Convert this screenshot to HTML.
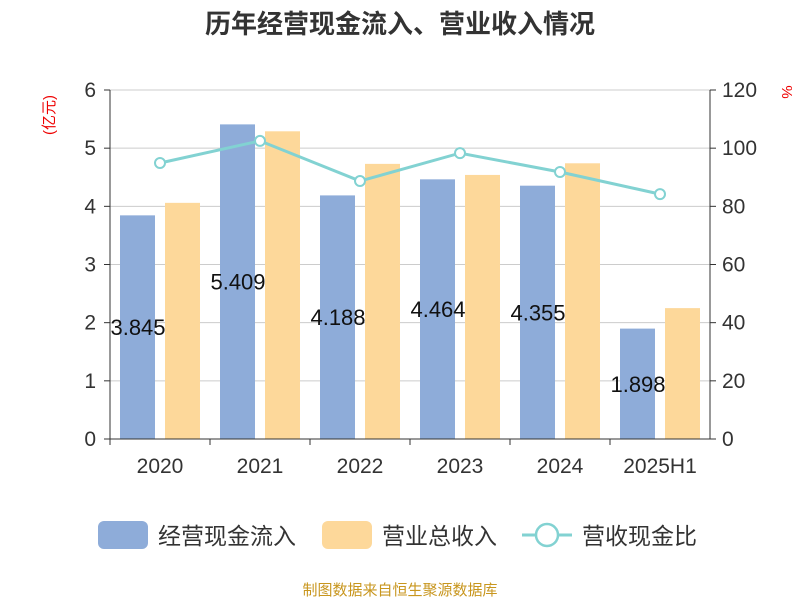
<!DOCTYPE html>
<html><head><meta charset="utf-8"><style>
body{margin:0;background:#fff;}
svg text{font-family:"Liberation Sans","Noto Sans CJK SC",sans-serif;}
</style></head><body>
<svg id="chart" width="800" height="600" xmlns="http://www.w3.org/2000/svg">
<text x="400" y="33" text-anchor="middle" font-size="26" font-weight="bold" fill="#333">历年经营现金流入、营业收入情况</text>
<text transform="translate(54,115) rotate(-90)" text-anchor="middle" font-size="15" fill="#e00">(亿元)</text>
<text transform="translate(782,92) rotate(90)" text-anchor="middle" font-size="15" fill="#e00">%</text>
<g id="grid"></g><g id="bars"></g><g id="line"></g><g id="axes"></g>
<g>
<rect x="98" y="521" width="50" height="28" rx="6" fill="#8eacd9"/>
<text x="158" y="544" font-size="23" fill="#333">经营现金流入</text>
<rect x="322" y="521" width="50" height="28" rx="6" fill="#fdd89a"/>
<text x="382" y="544" font-size="23" fill="#333">营业总收入</text>
<line x1="522" y1="535" x2="572" y2="535" stroke="#82d2d2" stroke-width="3"/>
<circle cx="547" cy="535" r="11" fill="#fff" stroke="#82d2d2" stroke-width="2.5"/>
<text x="582" y="544" font-size="23" fill="#333">营收现金比</text>
</g>
<text x="400" y="595" text-anchor="middle" font-size="15" fill="#c8961e">制图数据来自恒生聚源数据库</text>
</svg>
<script>
const categories=["2020","2021","2022","2023","2024","2025H1"];
const cashInflow=[3.845,5.409,4.188,4.464,4.355,1.898];
const revenue=[4.06,5.29,4.73,4.54,4.74,2.25];
const ratio=[94.9,102.5,88.7,98.3,91.8,84.2];
const leftTicks=[0,1,2,3,4,5,6];
const rightTicks=[0,20,40,60,80,100,120];
const NS="http://www.w3.org/2000/svg";
const L=110,R=710,T=90,B=439;
const yL=v=>B-(v/6)*(B-T);
const yR=v=>B-(v/120)*(B-T);
const xC=i=>L+(R-L)/categories.length*(i+0.5);
function mk(tag,attrs,parent){const e=document.createElementNS(NS,tag);for(const k in attrs)e.setAttribute(k,attrs[k]);document.getElementById(parent).appendChild(e);return e;}
leftTicks.forEach((t,i)=>{
 const g=mk("line",{x1:L,x2:R,y1:yL(t),y2:yL(t),stroke:"#ccc","stroke-width":1},"grid");
 
 
 const tl=mk("text",{x:L-14,y:yL(t)+7,"text-anchor":"end","font-size":21,fill:"#333"},"axes");
 tl.textContent=t;
 
 
 const tk=mk("line",{x1:L-6,x2:L,y1:yL(t),y2:yL(t),stroke:"#333"},"axes");
 
 
});
rightTicks.forEach(t=>{
 const tl=mk("text",{x:R+12,y:yR(t)+7,"font-size":21,fill:"#333"},"axes");
 tl.textContent=t;
 
 
 const tk=mk("line",{x1:R,x2:R+6,y1:yR(t),y2:yR(t),stroke:"#333"},"axes");
 
 
});
let a=mk("line",{x1:L,x2:L,y1:T,y2:B,stroke:"#333"},"axes");


a=mk("line",{x1:R,x2:R,y1:T,y2:B,stroke:"#333"},"axes");


a=mk("line",{x1:L,x2:R,y1:B,y2:B,stroke:"#333"},"axes");


const bw=(R-L)/categories.length;
categories.forEach((c,i)=>{
 const cx=xC(i);
 const tk=mk("line",{x1:L+bw*i,x2:L+bw*i,y1:B,y2:B+6,stroke:"#333"},"axes");
 
 
 const tl=mk("text",{x:cx,y:B+34,"text-anchor":"middle","font-size":21,fill:"#333"},"axes");
 tl.textContent=c;
 
 
 const b1=mk("rect",{x:cx-40,y:yL(cashInflow[i]),width:35,height:B-yL(cashInflow[i]),fill:"#8eacd9"},"bars");
 
 
 const b2=mk("rect",{x:cx+5,y:yL(revenue[i]),width:35,height:B-yL(revenue[i]),fill:"#fdd89a"},"bars");
 
 
 const lb=mk("text",{x:cx-22,y:(yL(cashInflow[i])+B)/2+8,"text-anchor":"middle","font-size":22,fill:"#111"},"line");
 lb.textContent=cashInflow[i];
 
 
});
const pts=ratio.map((v,i)=>xC(i)+","+yR(v)).join(" ");
const pl=mk("polyline",{points:pts,fill:"none",stroke:"#82d2d2","stroke-width":3},"line");


ratio.forEach((v,i)=>{
 const p=mk("circle",{cx:xC(i),cy:yR(v),r:5,fill:"#fff",stroke:"#82d2d2","stroke-width":2},"line");
 
 
});
</script>
</body></html>
